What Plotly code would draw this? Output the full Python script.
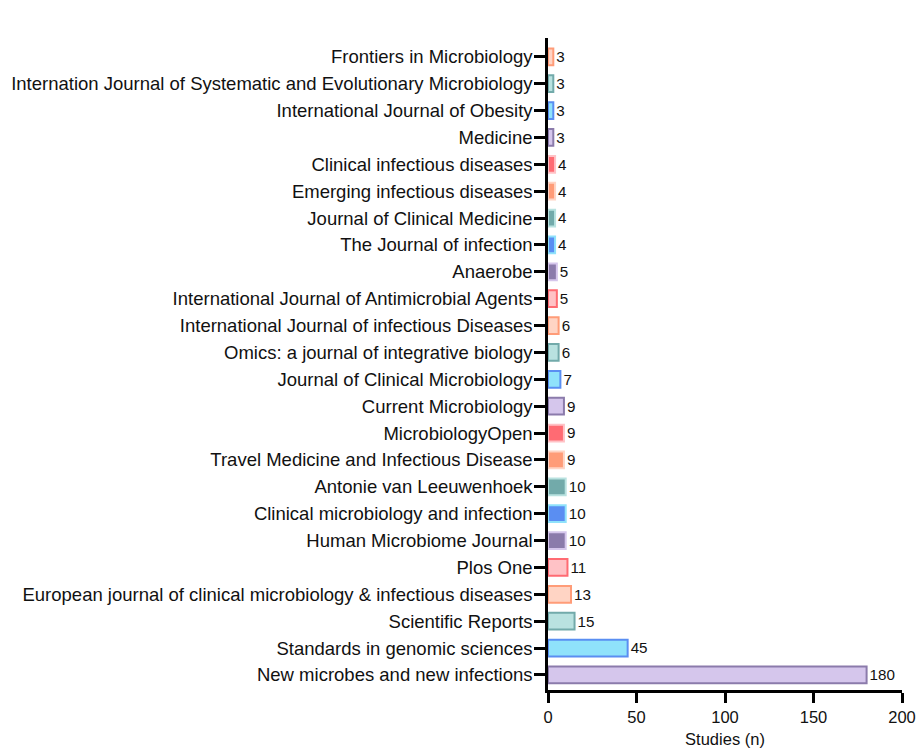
import plotly.graph_objects as go

# Journals listed from bottom of chart to top
journals = [
    "New microbes and new infections",
    "Standards in genomic sciences",
    "Scientific Reports",
    "European journal of clinical microbiology & infectious diseases",
    "Plos One",
    "Human Microbiome Journal",
    "Clinical microbiology and infection",
    "Antonie van Leeuwenhoek",
    "Travel Medicine and Infectious Disease",
    "MicrobiologyOpen",
    "Current Microbiology",
    "Journal of Clinical Microbiology",
    "Omics: a journal of integrative biology",
    "International Journal of infectious Diseases",
    "International Journal of Antimicrobial Agents",
    "Anaerobe",
    "The Journal of infection",
    "Journal of Clinical Medicine",
    "Emerging infectious diseases",
    "Clinical infectious diseases",
    "Medicine",
    "International Journal of Obesity",
    "Internation Journal of Systematic and Evolutionary Microbiology",
    "Frontiers in Microbiology",
]
studies = [180, 45, 15, 13, 11, 10, 10, 10, 9, 9, 9, 7, 6, 6, 5, 5, 4, 4, 4, 4, 3, 3, 3, 3]
x_ticks = [0, 50, 100, 150, 200]

# hue pairs (light, dark)
hues = [
    ("#D5C6EC", "#8B7BAB"),  # purple
    ("#8FE2FB", "#5A8EF2"),  # blue
    ("#B9E2E0", "#72AAAA"),  # teal
    ("#FFD4C4", "#FF9C78"),  # peach
    ("#FFC2C6", "#FF6B73"),  # red
]
fills, lines = [], []
for i in range(len(journals)):
    light, dark = hues[i % 5]
    if (i // 5) % 2 == 0:
        fills.append(light); lines.append(dark)
    else:
        fills.append(dark); lines.append(light)

FONT = "Liberation Sans, Arial"

fig = go.Figure(go.Bar(
    x=studies, y=journals, orientation="h",
    marker=dict(color=fills, line=dict(color=lines, width=2)),
    width=0.62,
    text=[str(v) for v in studies], textposition="outside",
    textfont=dict(size=15.5, color="#111", family=FONT),
    cliponaxis=False,
))

fig.update_layout(
    width=917, height=748,
    margin=dict(l=548, r=15, t=38, b=58),
    plot_bgcolor="white", paper_bgcolor="white",
    font=dict(family=FONT, size=17, color="#111"),
    showlegend=False,
)
fig.update_xaxes(
    range=[0, 200], tickvals=x_ticks, ticks="outside", ticklen=10, tickwidth=2.5,
    tickcolor="black", showline=True, linecolor="black", linewidth=2.5,
    showgrid=False, zeroline=False, tickfont=dict(size=16.5), automargin=False,
    ticklabeloverflow="allow",
    title=dict(text="Studies (n)", font=dict(size=16.5), standoff=9),
)
fig.update_yaxes(
    categoryorder="array", categoryarray=journals, range=[-0.56, 23.7],
    ticks="outside", ticklen=11, tickwidth=2.5, tickcolor="black",
    showline=True, linecolor="black", linewidth=2.5, showgrid=False,
    tickfont=dict(size=18.5), ticklabelstandoff=-2, automargin=False,
)

fig.write_html(
    "out.html",
    config={"displayModeBar": False},
    post_script="document.body.style.margin='0';document.body.style.overflow='hidden';",
)
